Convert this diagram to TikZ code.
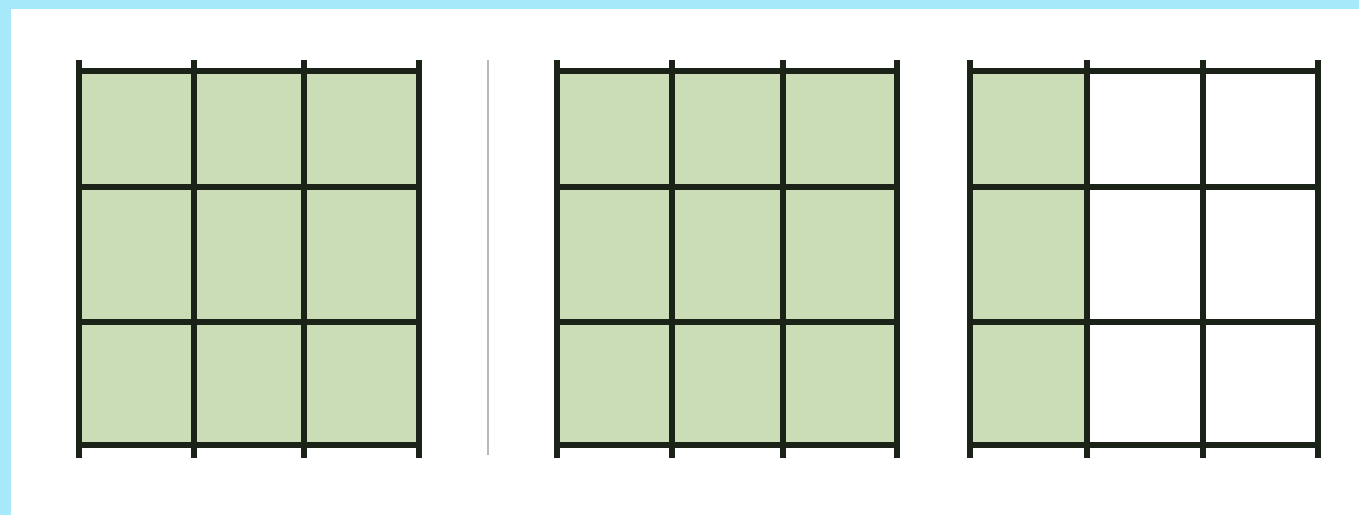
\documentclass[tikz,border=0pt]{standalone}
\definecolor{frameblue}{HTML}{A5E9FB}
\definecolor{cellgreen}{HTML}{CADDB6}
\definecolor{gridline}{HTML}{1B2318}
\definecolor{sepgray}{HTML}{B8B8B8}
\tikzset{
  gridrule/.style={draw=gridline, line width=3.9pt},
  cellfill/.style={fill=cellgreen},
  sepline/.style={draw=sepgray, line width=1.2pt}
}
\begin{document}
\begin{tikzpicture}[x=0.75pt,y=-0.75pt]
\useasboundingbox (0,0) rectangle (1359,515);
\fill[white] (0,0) rectangle (1359,515);
\fill[frameblue] (0,0) rectangle (1359,9);
\fill[frameblue] (0,0) rectangle (11,515);
% fills
\fill[cellgreen] (79,71) rectangle (419,445);
\fill[cellgreen] (557,71) rectangle (897,445);
\fill[cellgreen] (970,71) rectangle (1087,445);
% separator
\draw[sepline] (488,60) -- (488,455);
% grids
\foreach \xa/\xb/\xc/\xd in {79/194/304/419, 557/672/783/897, 970/1087/1203/1318}{
  \foreach \x in {\xa,\xb,\xc,\xd}{
    \draw[gridrule] (\x,60) -- (\x,458);
  }
  \foreach \y in {71,187,322,445}{
    \draw[gridrule] (\xa,\y) -- (\xd,\y);
  }
}
\end{tikzpicture}
\end{document}
